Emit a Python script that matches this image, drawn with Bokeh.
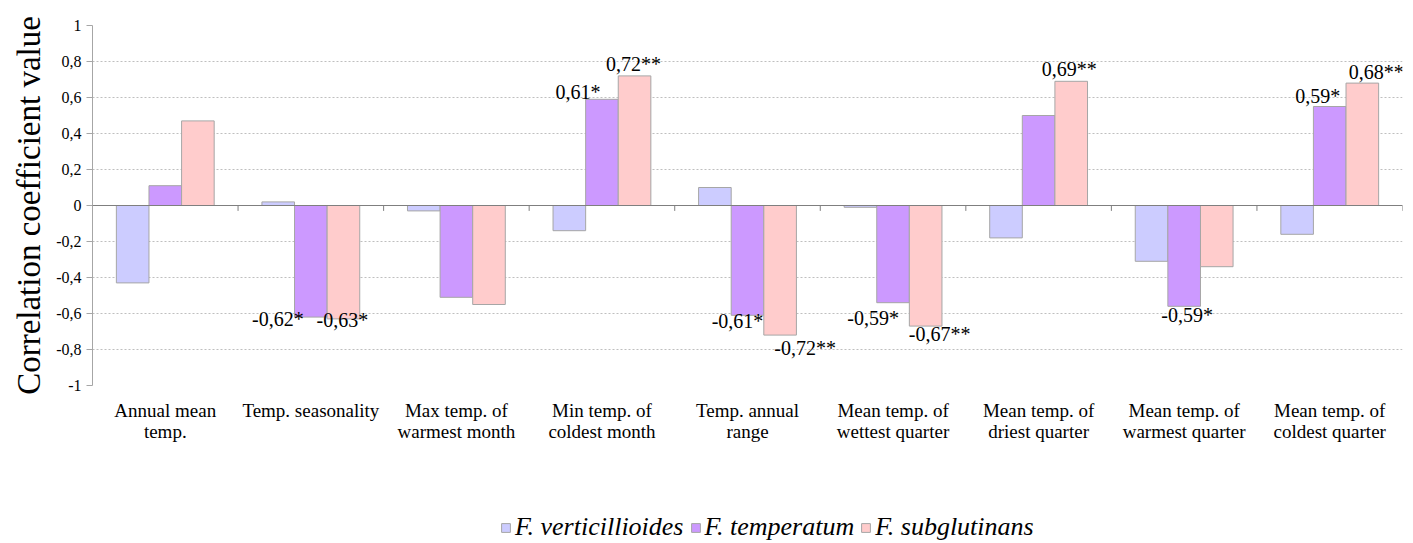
from bokeh.plotting import figure
from bokeh.layouts import column
from bokeh.models import (ColumnDataSource, FixedTicker, Legend, LegendItem, Span,
                          Range1d, CustomJSTickFormatter)
from bokeh.core.properties import value
from bokeh.embed import file_html
from bokeh.resources import INLINE

categories = ["Annual mean\ntemp.", "Temp. seasonality", "Max temp. of\nwarmest month",
              "Min temp. of\ncoldest month", "Temp. annual\nrange", "Mean temp. of\nwettest quarter",
              "Mean temp. of\ndriest quarter", "Mean temp. of\nwarmest quarter", "Mean temp. of\ncoldest quarter"]
series_names = ["F. verticillioides", "F. temperatum", "F. subglutinans"]
verticillioides = [-0.43, 0.02, -0.03, -0.14, 0.10, -0.01, -0.18, -0.31, -0.16]
temperatum = [0.11, -0.62, -0.51, 0.59, -0.61, -0.54, 0.50, -0.56, 0.55]
subglutinans = [0.47, -0.63, -0.55, 0.72, -0.72, -0.67, 0.69, -0.34, 0.68]
y_ticks = [-1, -0.8, -0.6, -0.4, -0.2, 0, 0.2, 0.4, 0.6, 0.8, 1]

# significance labels: (category index, series index, text)
sig_cat = [1, 1, 3, 3, 4, 4, 5, 5, 6, 7, 8, 8]
sig_series = [1, 2, 1, 2, 1, 2, 1, 2, 2, 1, 1, 2]
sig_text = ["-0,62*", "-0,63*", "0,61*", "0,72**", "-0,61*", "-0,72**",
            "-0,59*", "-0,67**", "0,69**", "-0,59*", "0,59*", "0,68**"]
# pixel offsets of labels from bar ends (styling)
sig_dx = [-33, -1, -24, -1, -10, 25, -20, 14, -2, 3, -12, 14]
sig_dy = [2, 1, -7, -12, 6, 13, 15, 8, -12, 9, -11, -11]

colors = ["#CCCCFF", "#CC99FF", "#FFCCCC"]
bar_w = 0.224
offsets = [-bar_w, 0.0, bar_w]
all_series = [verticillioides, temperatum, subglutinans]
FONT = "Liberation Serif"

p = figure(width=1413, height=500, output_backend="svg", toolbar_location=None,
           x_range=Range1d(0, len(categories)), y_range=Range1d(-1, 1),
           min_border_left=92, min_border_right=11, min_border_top=25, min_border_bottom=115)
p.background_fill_color = "white"
p.border_fill_color = "white"
p.outline_line_color = None

renderers = []
for k, vals in enumerate(all_series):
    src = ColumnDataSource(dict(x=[i + 0.5 + offsets[k] for i in range(len(categories))], top=vals))
    r = p.vbar(x="x", top="top", bottom=0, width=bar_w, source=src,
               fill_color=colors[k], line_color="#A6A6A6", line_width=1)
    renderers.append(r)

# zero line and boundary ticks
p.add_layout(Span(location=0, dimension="width", line_color="#7F7F7F", line_width=1.2))
bounds = list(range(1, len(categories) + 1))
p.segment(x0=bounds, y0=[0] * len(bounds), x1=bounds, y1=[-0.03] * len(bounds),
          line_color="#7F7F7F", line_width=1)

# significance labels
lx = [c + 0.5 + offsets[s] for c, s in zip(sig_cat, sig_series)]
ly = [all_series[s][c] for c, s in zip(sig_cat, sig_series)]
lsrc = ColumnDataSource(dict(x=lx, y=ly, t=sig_text, dx=sig_dx, dy=sig_dy))
p.text(x="x", y="y", text="t", x_offset="dx", y_offset="dy", source=lsrc,
       text_font=value(FONT), text_font_size="20px", text_color="black",
       text_align="center", text_baseline="middle")

# axes
p.yaxis.ticker = FixedTicker(ticks=y_ticks)
p.yaxis.formatter = CustomJSTickFormatter(code="return (Math.round(tick*10)/10).toString().replace('.', ',');")
p.yaxis.axis_label = "Correlation coefficient value"
p.yaxis.axis_label_text_font = FONT
p.yaxis.axis_label_text_font_style = "normal"
p.yaxis.axis_label_text_font_size = "33px"
p.yaxis.axis_label_text_color = "black"
p.yaxis.axis_label_standoff = 6
p.yaxis.major_label_text_font = FONT
p.yaxis.major_label_text_font_size = "16px"
p.yaxis.major_label_text_color = "black"
p.yaxis.major_label_standoff = 5
p.yaxis.axis_line_color = "#A6A6A6"
p.yaxis.major_tick_line_color = "#A6A6A6"
p.yaxis.major_tick_out = 6
p.yaxis.major_tick_in = 0
p.yaxis.minor_tick_line_color = None

p.xaxis.ticker = FixedTicker(ticks=[i + 0.5 for i in range(len(categories))])
p.xaxis.major_label_overrides = {i + 0.5: c for i, c in enumerate(categories)}
p.xaxis.major_label_text_font = FONT
p.xaxis.major_label_text_font_size = "19px"
p.xaxis.major_label_text_line_height = 1.0
p.xaxis.major_label_text_color = "black"
p.xaxis.major_label_standoff = 8
p.xaxis.axis_line_color = None
p.xaxis.major_tick_line_color = None
p.xaxis.minor_tick_line_color = None

p.xgrid.grid_line_color = None
p.ygrid.ticker = FixedTicker(ticks=y_ticks)
p.ygrid.grid_line_color = "#BFBFBF"
p.ygrid.grid_line_dash = "2 2"
p.ygrid.grid_line_width = 1

# legend strip (legend glyph proxies lie outside the visible range)
q = figure(width=1413, height=43, output_backend="svg", toolbar_location=None,
           x_range=Range1d(0, 1), y_range=Range1d(0, 1),
           x_axis_type=None, y_axis_type=None,
           min_border_left=92, min_border_right=11, min_border_top=0, min_border_bottom=0)
q.grid.grid_line_color = None
q.outline_line_color = None
q.background_fill_color = "white"
q.border_fill_color = "white"
lrs = []
for k in range(3):
    lrs.append(q.vbar(x=[0.5], top=[-2], bottom=[-3], width=0.01,
                      fill_color=colors[k], line_color="#A6A6A6"))
legend = Legend(items=[LegendItem(label=series_names[k], renderers=[lrs[k]]) for k in range(3)],
                orientation="horizontal", location=(408, 1))
legend.label_text_font = FONT
legend.label_text_font_style = "italic"
legend.label_text_font_size = "26px"
legend.label_text_color = "black"
legend.glyph_width = 11
legend.glyph_height = 11
legend.label_standoff = 4
legend.spacing = 6
legend.padding = 0
legend.margin = 0
legend.border_line_color = None
legend.background_fill_alpha = 0
q.add_layout(legend, "center")

layout = column(p, q, spacing=0)
open("out.html", "w").write(file_html(layout, INLINE))
